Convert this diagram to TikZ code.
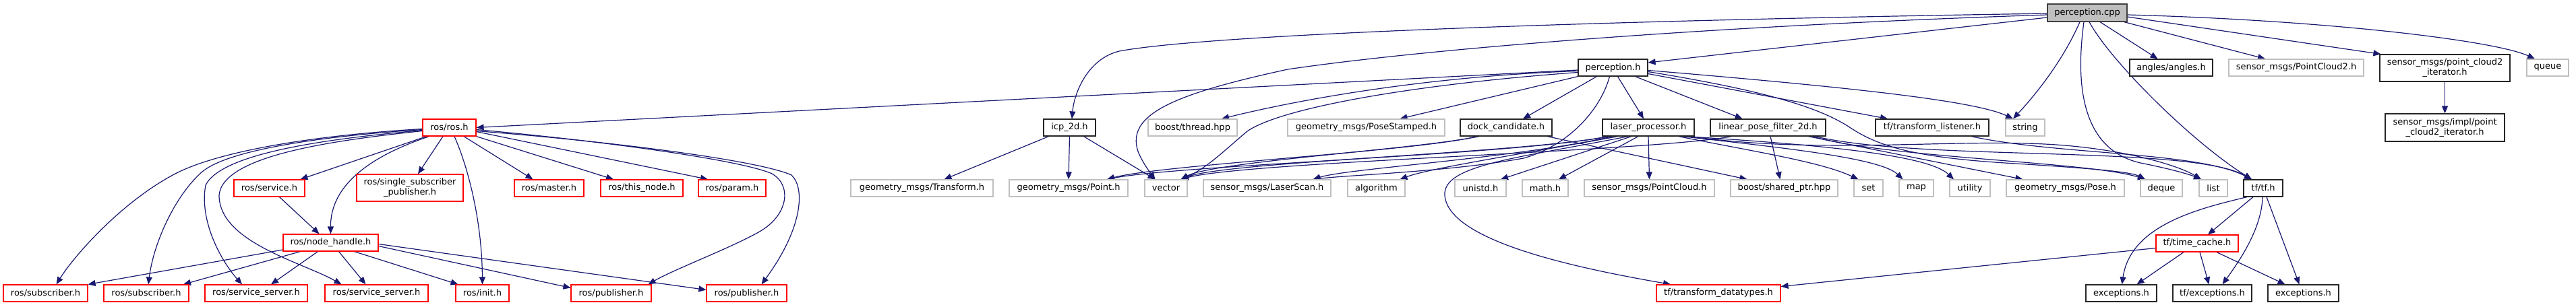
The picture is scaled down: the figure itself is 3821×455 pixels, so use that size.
\documentclass[tikz,border=0pt]{standalone}
\usepackage{fontspec}
\newfontfamily\dvs{DejaVu Sans}
\usetikzlibrary{arrows.meta}
\pgfdeclarelayer{bg}
\pgfsetlayers{bg,main}
\definecolor{eblue}{HTML}{191970}
\definecolor{gbord}{HTML}{BFBFBF}
\definecolor{gfill}{HTML}{BFBFBF}
\definecolor{dbord}{HTML}{404040}
\tikzset{
  nb/.style={rectangle, inner sep=0pt, line width=1.2pt, fill=white, font=\dvs\fontsize{13}{15}\selectfont, align=center, minimum height=25pt},
  doc/.style={nb, draw=black!85},
  ext/.style={nb, draw=gbord},
  inc/.style={nb, draw=red},
  topf/.style={nb, draw=dbord, fill=gfill},
  dep/.style={draw=eblue, line width=1.2pt, -{Triangle[length=11pt,width=9pt]}},
}
\begin{document}
\begin{tikzpicture}[x=1pt,y=-1pt]
\useasboundingbox (0,0) rectangle (3821,455);
% ---- row 0
\node[topf, minimum width=118pt, minimum height=26pt] (pc) at (3096,19) {perception.cpp};
% ---- row 1
\node[doc, minimum width=103pt] (ph) at (2392.5,100.5) {perception.h};
\node[doc, minimum width=123pt] (ang) at (3220.5,100.5) {angles/angles.h};
\node[ext, minimum width=200pt] (pc2) at (3406,100.5) {sensor\_msgs/PointCloud2.h};
\node[doc, minimum width=193pt, minimum height=40pt] (pci) at (3626.5,101) {sensor\_msgs/point\_cloud2\\\_iterator.h};
\node[ext, minimum width=62pt] (q) at (3779,100.5) {queue};
% ---- row 2
\node[doc, minimum width=177pt, minimum height=41pt] (pcii) at (3626.5,189.5) {sensor\_msgs/impl/point\\\_cloud2\_iterator.h};
\node[inc, minimum width=79pt] (ros) at (666.5,189.5) {ros/ros.h};
\node[doc, minimum width=77pt] (icp) at (1586.5,189.5) {icp\_2d.h};
\node[ext, minimum width=132pt] (bt) at (1769,189.5) {boost/thread.hpp};
\node[ext, minimum width=233pt] (ps) at (2026.5,189.5) {geometry\_msgs/PoseStamped.h};
\node[doc, minimum width=136pt] (dc) at (2234,189.5) {dock\_candidate.h};
\node[doc, minimum width=136pt] (lp) at (2445,189.5) {laser\_processor.h};
\node[doc, minimum width=171pt] (lpf) at (2622.5,189.5) {linear\_pose\_filter\_2d.h};
\node[doc, minimum width=168pt] (tl) at (2866,189.5) {tf/transform\_listener.h};
\node[ext, minimum width=58pt] (str) at (3004,189.5) {string};
% ---- row 3
\node[inc, minimum width=105pt] (srv) at (399.5,279.5) {ros/service.h};
\node[inc, minimum width=158pt, minimum height=40pt] (ssp) at (608,279) {ros/single\_subscriber\\\_publisher.h};
\node[inc, minimum width=103pt] (mst) at (814.5,279.5) {ros/master.h};
\node[inc, minimum width=122pt] (tn) at (952,279.5) {ros/this\_node.h};
\node[inc, minimum width=100pt] (prm) at (1086,279.5) {ros/param.h};
\node[ext, minimum width=211pt] (tr) at (1367.5,279.5) {geometry\_msgs/Transform.h};
\node[ext, minimum width=176pt] (pt) at (1585,279.5) {geometry\_msgs/Point.h};
\node[ext, minimum width=63pt] (vec) at (1729.5,279.5) {vector};
\node[ext, minimum width=189pt] (ls) at (1879.5,279.5) {sensor\_msgs/LaserScan.h};
\node[ext, minimum width=85pt] (alg) at (2041.5,279.5) {algorithm};
\node[ext, minimum width=76pt] (uni) at (2196,279.5) {unistd.h};
\node[ext, minimum width=68pt] (mth) at (2292,279.5) {math.h};
\node[ext, minimum width=193pt] (pcl) at (2446.5,279.5) {sensor\_msgs/PointCloud.h};
\node[ext, minimum width=159pt] (sp) at (2646.5,279.5) {boost/shared\_ptr.hpp};
\node[ext, minimum width=43pt] (nset) at (2771.5,279.5) {set};
\node[ext, minimum width=51pt] (nmap) at (2842.5,279.5) {map};
\node[ext, minimum width=60pt] (utl) at (2922,279.5) {utility};
\node[ext, minimum width=175pt] (pose) at (3063.5,279.5) {geometry\_msgs/Pose.h};
\node[ext, minimum width=62pt] (dq) at (3206,279.5) {deque};
\node[ext, minimum width=42pt] (lst) at (3283,279.5) {list};
\node[doc, minimum width=58pt] (tf) at (3357,279.5) {tf/tf.h};
% ---- row 4
\node[inc, minimum width=141pt] (nh) at (490.5,360.5) {ros/node\_handle.h};
\node[inc, minimum width=122pt] (tc) at (3259,361.5) {tf/time\_cache.h};
% ---- row 5
\node[inc, minimum width=125pt] (sub1) at (67.5,435.5) {ros/subscriber.h};
\node[inc, minimum width=126pt] (sub2) at (217,435.5) {ros/subscriber.h};
\node[inc, minimum width=152pt] (ss1) at (380,435.5) {ros/service\_server.h};
\node[inc, minimum width=153pt] (ss2) at (558.5,435.5) {ros/service\_server.h};
\node[inc, minimum width=79pt] (init) at (715.5,435.5) {ros/init.h};
\node[inc, minimum width=119pt] (pub1) at (906.5,435.5) {ros/publisher.h};
\node[inc, minimum width=119pt] (pub2) at (1107.5,435.5) {ros/publisher.h};
\node[inc, minimum width=184pt] (tdt) at (2549,435.5) {tf/transform\_datatypes.h};
\node[doc, minimum width=105pt] (ex1) at (3146.5,435.5) {exceptions.h};
\node[doc, minimum width=117pt] (tex) at (3281.5,435.5) {tf/exceptions.h};
\node[doc, minimum width=105pt] (ex2) at (3416.5,435.5) {exceptions.h};

\begin{pgfonlayer}{bg}
% perception.cpp
\draw[dep] ([yshift=-7pt]pc.west) -- ([yshift=7.5pt]ph.east);
\draw[dep] ([yshift=-1pt]pc.west) .. controls (2400,30) and (1800,50) .. (1660,76) .. controls (1612,88) and (1593,140) .. ([xshift=3.5pt]icp.north);
\draw[dep] ([yshift=-3pt]pc.west) .. controls (2500,40) and (2100,75) .. (1910,103) .. controls (1740,140) and (1670,170) .. (1688,225) .. controls (1695,242) and (1705,255) .. ([xshift=-16pt]vec.north);
\draw[dep] ([xshift=-11pt]pc.south) .. controls (3060,90) and (3020,140) .. ([xshift=-18pt]str.north);
\draw[dep] ([xshift=-5pt]pc.south) .. controls (3075,150) and (3100,225) .. (3175,242) .. controls (3215,250) and (3245,258) .. ([xshift=-18pt]lst.north);
\draw[dep] ([xshift=3pt]pc.south) .. controls (3130,90) and (3250,210) .. ([xshift=-17pt]tf.north);
\draw[dep] ([xshift=19pt]pc.south) -- ([xshift=-20pt]ang.north);
\draw[dep] ([xshift=-5pt]pc.south east) -- ([xshift=-46pt]pc2.north);
\draw[dep] ([yshift=-6pt]pc.east) -- ([xshift=2pt]pci.north west);
\draw[dep] ([yshift=-3pt]pc.east) .. controls (3450,30) and (3700,60) .. ([xshift=-19pt]q.north);
\draw[dep] (pci.south) -- (pcii.north);
% perception.h
\draw[dep] ([yshift=-3.5pt]ph.west) -- (ros.east);
\draw[dep] ([yshift=-5pt]ph.west) .. controls (2150,112) and (1960,140) .. ([xshift=43pt]bt.north);
\draw[dep] ([yshift=-7pt]ph.west) .. controls (2100,125) and (1900,160) .. (1850,195) .. controls (1820,220) and (1790,250) .. ([xshift=22pt]vec.north);
\draw[dep] (ph.south west) -- ([xshift=50pt]ps.north);
\draw[dep] ([xshift=-24pt]ph.south) -- ([xshift=25pt]dc.north);
\draw[dep] ([xshift=-5pt]ph.south) .. controls (2375,160) and (2330,215) .. (2260,235) .. controls (2150,255) and (2000,260) .. ([xshift=68pt]ls.north);
\draw[dep] ([xshift=7pt]ph.south) -- ([xshift=-7pt]lp.north);
\draw[dep] ([xshift=33pt]ph.south) -- ([xshift=-38pt]lpf.north);
\draw[dep] ([yshift=-9pt]ph.east) -- ([xshift=-66pt]tl.north);
\draw[dep] ([yshift=-4pt]ph.east) .. controls (2750,130) and (2930,150) .. ([xshift=-18pt]str.north);
\draw[dep] ([yshift=-6pt]ph.east) .. controls (2620,135) and (2700,160) .. (2745,190) .. controls (2790,220) and (2850,235) .. (2990,243) .. controls (3100,250) and (3160,255) .. ([xshift=-24pt]dq.north);
% icp_2d.h
\draw[dep] ([xshift=-31pt]icp.south) -- ([xshift=33pt]tr.north);
\draw[dep] (icp.south) -- (pt.north);
\draw[dep] ([xshift=21pt]icp.south) -- ([xshift=-16pt]vec.north);
% dock_candidate.h
\draw[dep] ([xshift=-43pt]dc.south) .. controls (2100,225) and (1720,245) .. ([xshift=57pt]pt.north);
\draw[dep] ([xshift=-40pt]dc.south) .. controls (2100,222) and (1800,240) .. ([xshift=22pt]vec.north);
\draw[dep] ([xshift=61pt]dc.south) -- ([xshift=-55pt]sp.north);
% laser_processor.h
\draw[dep] ([xshift=-60pt]lp.south) .. controls (2250,230) and (1750,245) .. ([xshift=57pt]pt.north);
\draw[dep] ([xshift=-57pt]lp.south) .. controls (2250,228) and (1820,240) .. ([xshift=22pt]vec.north);
\draw[dep] ([xshift=-53pt]lp.south) .. controls (2250,235) and (2000,250) .. ([xshift=68pt]ls.north);
\draw[dep] ([xshift=-45pt]lp.south) .. controls (2250,230) and (2120,250) .. ([xshift=35pt]alg.north);
\draw[dep] ([xshift=-30pt]lp.south) .. controls (2250,235) and (2140,245) .. (2143,290) .. controls (2148,360) and (2350,400) .. ([xshift=-71pt]tdt.north);
\draw[dep] ([xshift=-25pt]lp.south) -- ([xshift=30pt]uni.north);
\draw[dep] ([xshift=-15pt]lp.south) -- ([xshift=20pt]mth.north);
\draw[dep] (lp.south) -- (pcl.north);
\draw[dep] ([xshift=45pt]lp.south) .. controls (2600,225) and (2700,240) .. ([xshift=-15pt]nset.north);
\draw[dep] ([xshift=50pt]lp.south) .. controls (2650,220) and (2790,235) .. ([xshift=-20pt]nmap.north);
\draw[dep] ([xshift=55pt]lp.south) .. controls (2700,215) and (2860,230) .. ([xshift=-24pt]utl.north);
\draw[dep] ([xshift=62pt]lp.south) .. controls (2700,230) and (2900,205) .. (3050,215) .. controls (3150,222) and (3230,245) .. ([xshift=-18pt]lst.north);
% linear_pose_filter_2d.h
\draw[dep] ([xshift=-54pt]lpf.south) .. controls (2450,225) and (1850,240) .. ([xshift=22pt]vec.north);
\draw[dep] ([xshift=3.5pt]lpf.south) -- ([xshift=-6pt]sp.north);
\draw[dep] ([xshift=60pt]lpf.south) -- ([xshift=-63pt]pose.north);
\draw[dep] ([xshift=65pt]lpf.south) .. controls (2800,235) and (3100,240) .. ([xshift=-24pt]dq.north);
\draw[dep] ([xshift=70pt]lpf.south) .. controls (2850,240) and (3250,215) .. ([xshift=-17pt]tf.north);
% tf/transform_listener.h
\draw[dep] ([xshift=58pt]tl.south) .. controls (3050,230) and (3260,225) .. ([xshift=-17pt]tf.north);
% ros/ros.h
\draw[dep] ([yshift=-2pt]ros.west) .. controls (480,200) and (330,222) .. (260,258) .. controls (180,300) and (110,380) .. ([xshift=16pt]sub1.north);
\draw[dep] ([yshift=-3pt]ros.west) .. controls (480,202) and (340,222) .. (300,255) .. controls (260,290) and (228,360) .. ([xshift=3pt]sub2.north);
\draw[dep] ([yshift=-4pt]ros.west) .. controls (500,205) and (330,225) .. (305,275) .. controls (295,330) and (330,390) .. ([xshift=-21pt]ss1.north);
\draw[dep] ([yshift=-5pt]ros.west) .. controls (500,208) and (330,230) .. (325,290) .. controls (325,360) and (450,390) .. ([xshift=-52pt]ss2.north);
\draw[dep] ([xshift=-34pt]ros.south) -- ([xshift=46pt]srv.north);
\draw[dep] ([xshift=-30pt]ros.south) .. controls (570,225) and (490,265) .. (nh.north);
\draw[dep] ([xshift=-9.5pt]ros.south) -- ([xshift=12pt]ssp.north);
\draw[dep] ([xshift=7.5pt]ros.south) .. controls (695,250) and (715,330) .. (init.north);
\draw[dep] ([xshift=21.5pt]ros.south) -- ([xshift=-24pt]mst.north);
\draw[dep] (ros.south east) -- ([xshift=-42pt]tn.north);
\draw[dep] ([yshift=-6pt]ros.east) -- ([xshift=-36pt]prm.north);
\draw[dep] ([yshift=-3pt]ros.east) .. controls (900,210) and (1100,238) .. (1145,258) .. controls (1175,275) and (1170,320) .. (1125,345) .. controls (1080,370) and (1000,400) .. ([xshift=55pt]pub1.north);
\draw[dep] ([yshift=-5pt]ros.east) .. controls (930,212) and (1130,240) .. (1174,260) .. controls (1195,280) and (1190,340) .. ([xshift=22pt]pub2.north);
% ros/service.h
\draw[dep] ([xshift=15pt]srv.south) -- ([xshift=-17pt]nh.north);
% ros/node_handle.h
\draw[dep] ([yshift=-10.5pt]nh.west) -- (sub1.north east);
\draw[dep] ([xshift=-45pt]nh.south) -- ([xshift=55pt]sub2.north);
\draw[dep] ([xshift=-19pt]nh.south) -- ([xshift=22pt]ss1.north);
\draw[dep] ([xshift=12pt]nh.south) -- ([xshift=-16pt]ss2.north);
\draw[dep] ([xshift=35pt]nh.south) -- ([xshift=-36pt]init.north);
\draw[dep] ([yshift=-5pt]nh.east) -- ([yshift=8pt]pub1.west);
\draw[dep] ([yshift=-2pt]nh.east) -- ([yshift=5pt]pub2.west);
% tf/tf.h
\draw[dep] ([xshift=-15pt]tf.south) -- ([xshift=16pt]tc.north);
\draw[dep] ([xshift=-24pt]tf.south) .. controls (3260,310) and (3160,335) .. ([xshift=1pt]ex1.north);
\draw[dep] ([xshift=-1pt]tf.south) .. controls (3355,340) and (3320,390) .. ([xshift=15pt]tex.north);
\draw[dep] ([xshift=5pt]tf.south) -- ([xshift=-6pt]ex2.north);
% tf/time_cache.h
\draw[dep] ([xshift=-20pt]tc.south) -- ([xshift=23pt]ex1.north);
\draw[dep] ([xshift=4pt]tc.south) -- ([xshift=-5pt]tex.north);
\draw[dep] ([xshift=29pt]tc.south) -- ([xshift=-27pt]ex2.north);
\draw[dep] ([yshift=-7pt]tc.west) -- ([yshift=10pt]tdt.east);
\end{pgfonlayer}
\end{tikzpicture}
\end{document}
